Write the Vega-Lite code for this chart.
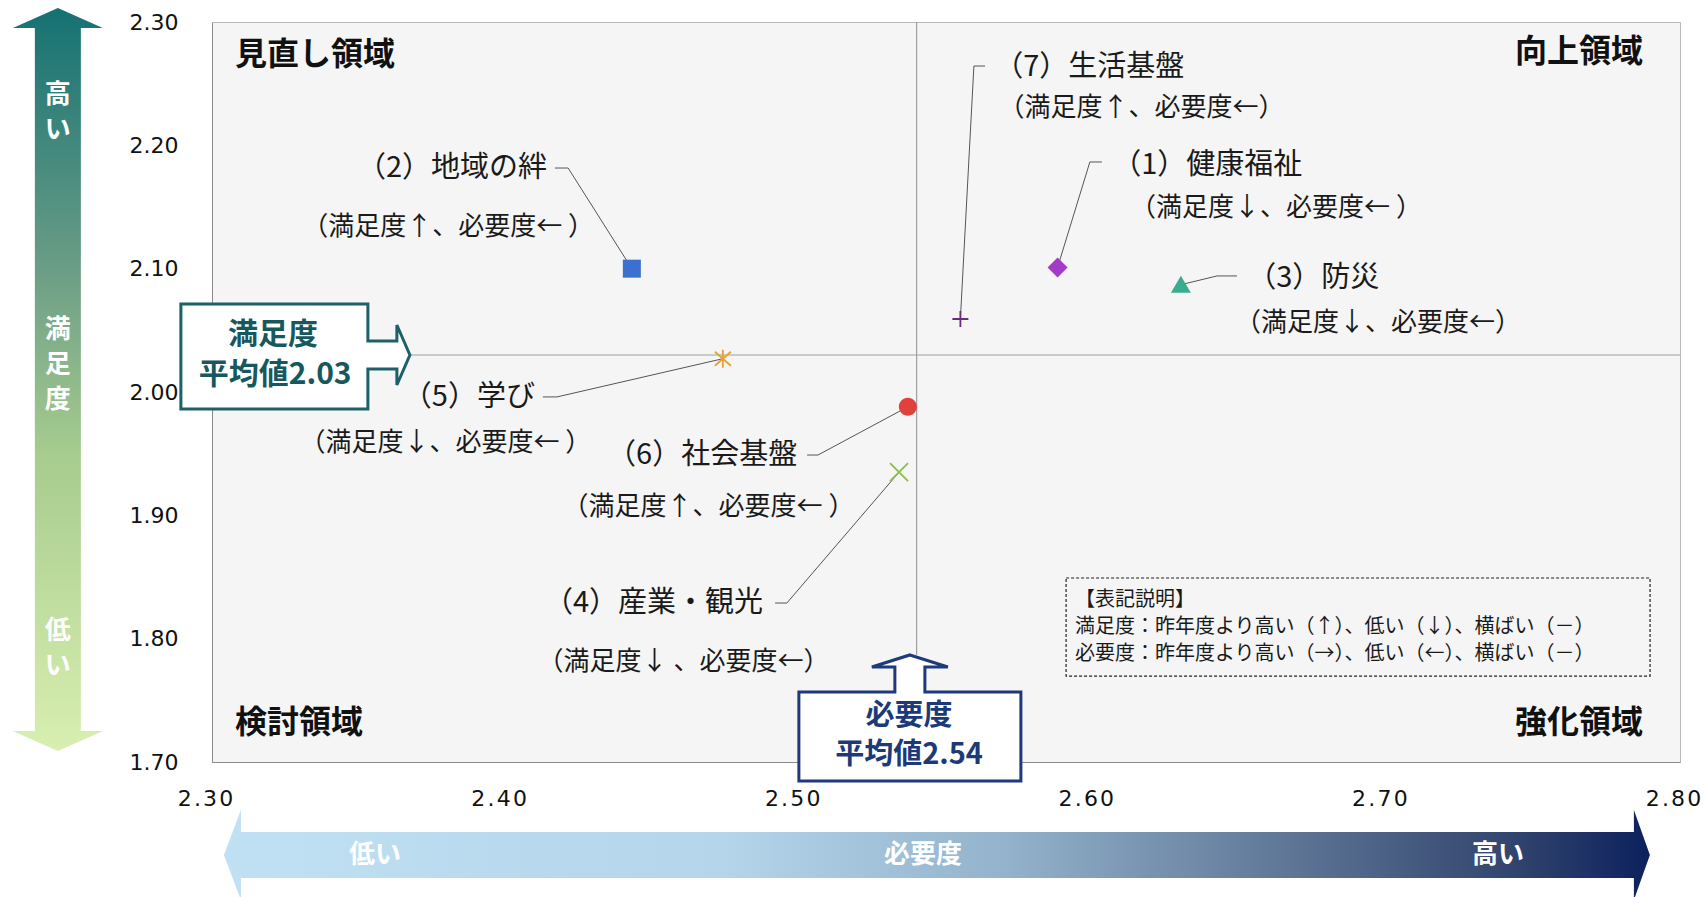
{
  "$schema": "https://vega.github.io/schema/vega-lite/v6.json",
  "width": 1468,
  "height": 740,
  "autosize": {"type": "none"},
  "padding": {"left": 212, "top": 22, "right": 26, "bottom": 135},
  "background": "white",
  "config": {
    "view": {"fill": "#f5f5f5", "stroke": "#b8b8b8"},
    "font": "Noto Sans CJK JP"
  },
  "resolve": {"scale": {"shape": "independent", "color": "independent"}},
  "encoding": {
    "x": {
      "field": "x", "type": "quantitative",
      "scale": {"domain": [2.3, 2.8], "nice": false, "zero": false},
      "axis": {
        "title": null, "values": [2.3, 2.4, 2.5, 2.6, 2.7, 2.8], "format": ".2f",
        "labelExpr": "join(split(datum.label, ''), '\u200a')",
        "grid": false, "ticks": false, "domainColor": "#8a8a8a",
        "labelFont": "DejaVu Sans", "labelFontSize": 22, "labelColor": "#111111",
        "labelPadding": 26, "labelFlush": false, "labelOverlap": false, "labelOffset": -7
      }
    },
    "y": {
      "field": "y", "type": "quantitative",
      "scale": {"domain": [1.7, 2.3], "nice": false, "zero": false},
      "axis": {
        "title": null, "values": [1.7, 1.8, 1.9, 2.0, 2.1, 2.2, 2.3], "format": ".2f",
        "grid": false, "ticks": false, "domainColor": "#8a8a8a",
        "labelFont": "DejaVu Sans", "labelFontSize": 22, "labelColor": "#111111",
        "labelPadding": 34, "labelFlush": false, "labelOverlap": false
      }
    }
  },
  "layer": [
    {
      "data": {"values": [
        {"x": 2.54, "y": 1.7868, "x2": 2.54, "y2": 2.3},
        {"x": 2.3674, "y": 2.03, "x2": 2.8, "y2": 2.03}
      ]},
      "mark": {"type": "rule", "color": "#a0a0a0", "strokeWidth": 1.2},
      "encoding": {"x2": {"field": "x2"}, "y2": {"field": "y2"}}
    },
    {
      "data": {"values": [
        {"x": 2.588, "y": 2.101, "x2": 2.599, "y2": 2.1865},
        {"x": 2.599, "y": 2.1865, "x2": 2.6031, "y2": 2.1865},
        {"x": 2.443, "y": 2.100, "x2": 2.4213, "y2": 2.1816},
        {"x": 2.4213, "y": 2.1816, "x2": 2.4168, "y2": 2.1816},
        {"x": 2.630, "y": 2.087, "x2": 2.6423, "y2": 2.0941},
        {"x": 2.6423, "y": 2.0941, "x2": 2.6491, "y2": 2.0941},
        {"x": 2.534, "y": 1.935, "x2": 2.4958, "y2": 1.8289},
        {"x": 2.4958, "y": 1.8289, "x2": 2.4918, "y2": 1.8289},
        {"x": 2.474, "y": 2.027, "x2": 2.4175, "y2": 1.996},
        {"x": 2.4175, "y": 1.996, "x2": 2.4127, "y2": 1.996},
        {"x": 2.537, "y": 1.988, "x2": 2.5064, "y2": 1.9489},
        {"x": 2.5064, "y": 1.9489, "x2": 2.5027, "y2": 1.9489},
        {"x": 2.5549, "y": 2.0592, "x2": 2.5595, "y2": 2.2643},
        {"x": 2.5595, "y": 2.2643, "x2": 2.5633, "y2": 2.2643}
      ]},
      "mark": {"type": "rule", "color": "#555555", "strokeWidth": 1},
      "encoding": {"x2": {"field": "x2"}, "y2": {"field": "y2"}}
    },
    {
      "data": {"values": [{"x": 2.5909, "x2": 2.7898, "y": 1.7697, "y2": 1.8492}]},
      "mark": {"type": "rect", "fill": null, "fillOpacity": 0, "stroke": "#222222", "strokeWidth": 1.2, "strokeDash": [3, 2]},
      "encoding": {"x2": {"field": "x2"}, "y2": {"field": "y2"}}
    },
    {
      "data": {"values": [{"x": 2.3674, "y": 2.03}]},
      "mark": {"type": "point", "shape": "M0,0 L-13,-30 L-13,-14 L-42,-14 L-42,-51 L-229,-51 L-229,54 L-42,54 L-42,14 L-13,14 L-13,30 Z", "size": 4, "filled": true, "fill": "#ffffff", "stroke": "#1d6068", "strokeWidth": 3, "opacity": 1}
    },
    {
      "data": {"values": [{"x": 2.5377, "y": 1.7868}]},
      "mark": {"type": "point", "shape": "M0,0 L38,12 L15,12 L15,37 L111,37 L111,126 L-111,126 L-111,37 L-15,37 L-15,12 L-38,12 Z", "size": 4, "filled": true, "fill": "#ffffff", "stroke": "#1d3a7c", "strokeWidth": 3, "opacity": 1}
    },
    {
      "data": {"values": [{"x": 2.2475, "y": 2.0097}]},
      "mark": {"type": "point", "shape": "M0,-372 L45,-352 L23,-352 L23,351 L45,351 L0,371 L-45,351 L-23,351 L-23,-352 L-45,-352 Z", "size": 4, "filled": true, "opacity": 1, "strokeWidth": 0,
        "fill": {"gradient": "linear", "x1": 0, "y1": 0, "x2": 0, "y2": 1, "stops": [
          {"offset": 0, "color": "#157173"}, {"offset": 0.35, "color": "#6a9d86"}, {"offset": 0.6, "color": "#a6cc8e"}, {"offset": 1, "color": "#d8efb0"}]}}
    },
    {
      "data": {"values": [{"x": 2.5469, "y": 1.6246}]},
      "mark": {"type": "point", "shape": "M-713,0 L-696,-45 L-696,-23 L697,-23 L697,-45 L713,0 L697,45 L697,23 L-696,23 L-696,45 Z", "size": 4, "filled": true, "opacity": 1, "strokeWidth": 0,
        "fill": {"gradient": "linear", "x1": 0, "y1": 0, "x2": 1, "y2": 0, "stops": [
          {"offset": 0, "color": "#c0e0f3"}, {"offset": 0.35, "color": "#b4d5ea"}, {"offset": 0.55, "color": "#93b2cb"}, {"offset": 0.75, "color": "#5e7596"}, {"offset": 0.9, "color": "#33466f"}, {"offset": 1, "color": "#0c215d"}]}}
    },
    {
      "data": {"values": [
        {"x": 2.588, "y": 2.101, "k": "1"},
        {"x": 2.443, "y": 2.100, "k": "2"},
        {"x": 2.630, "y": 2.087, "k": "3"},
        {"x": 2.537, "y": 1.988, "k": "6"}
      ]},
      "mark": {"type": "point", "filled": true, "size": 4, "opacity": 1, "strokeWidth": 0},
      "encoding": {
        "shape": {"field": "k", "type": "nominal", "legend": null, "scale": {"domain": ["1", "2", "3", "6"], "range": [
          "M0,-10 L10,0 L0,10 L-10,0 Z",
          "M-9,-9 L9,-9 L9,9 L-9,9 Z",
          "M0,-9 L10,8 L-10,8 Z",
          "M-9,0 A9,9 0 1,0 9,0 A9,9 0 1,0 -9,0 Z"]}},
        "color": {"field": "k", "type": "nominal", "legend": null, "scale": {"domain": ["1", "2", "3", "6"], "range": ["#a23cc6", "#3b6fd0", "#3cac91", "#e0413b"]}}
      }
    },
    {
      "data": {"values": [
        {"x": 2.5549, "y": 2.0592, "m": "7"},
        {"x": 2.474, "y": 2.027, "m": "5"},
        {"x": 2.534, "y": 1.935, "m": "4"}
      ]},
      "mark": {"type": "point", "filled": false, "size": 4, "opacity": 1, "strokeWidth": 1.8},
      "encoding": {
        "shape": {"field": "m", "type": "nominal", "legend": null, "scale": {"domain": ["7", "5", "4"], "range": [
          "M-8,0 L8,0 M0,-8 L0,8",
          "M-8,-7 L8,7 M-8,7 L8,-7 M0,-9 L0,9",
          "M-9,-9 L9,9 M-9,9 L9,-9"]}},
        "color": {"field": "m", "type": "nominal", "legend": null, "scale": {"domain": ["7", "5", "4"], "range": ["#6a2a7d", "#e8a033", "#8cbf4a"]}}
      }
    },
    {
      "data": {"values": [
        {"x": 2.6066, "y": 2.1841, "t": "（1）健康福祉"},
        {"x": 2.6526, "y": 2.0924, "t": "（3）防災"},
        {"x": 2.5664, "y": 2.2635, "t": "（7）生活基盤"}
      ]},
      "mark": {"type": "text", "align": "left", "baseline": "middle", "fontSize": 29, "color": "#1a1a1a"},
      "encoding": {"text": {"field": "t"}}
    },
    {
      "data": {"values": [
        {"x": 2.4141, "y": 2.1816, "t": "（2）地域の絆"},
        {"x": 2.4877, "y": 1.8289, "t": "（4）産業・観光"},
        {"x": 2.41, "y": 1.996, "t": "（5）学び"},
        {"x": 2.4993, "y": 1.9489, "t": "（6）社会基盤"}
      ]},
      "mark": {"type": "text", "align": "right", "baseline": "middle", "fontSize": 29, "color": "#1a1a1a"},
      "encoding": {"text": {"field": "t"}}
    },
    {
      "data": {"values": [
        {"x": 2.6624, "y": 2.1492, "t": "（満足度↓、必要度← ）"},
        {"x": 2.3804, "y": 2.1338, "t": "（満足度↑、必要度← ）"},
        {"x": 2.6971, "y": 2.056, "t": "（満足度↓、必要度←）"},
        {"x": 2.4606, "y": 1.7811, "t": "（満足度↓ 、必要度←）"},
        {"x": 2.3795, "y": 1.9587, "t": "（満足度↓、必要度← ）"},
        {"x": 2.4691, "y": 1.9068, "t": "（満足度↑、必要度← ）"},
        {"x": 2.6166, "y": 2.2303, "t": "（満足度↑、必要度←）"}
      ]},
      "mark": {"type": "text", "align": "center", "baseline": "middle", "fontSize": 26, "color": "#1a1a1a"},
      "encoding": {"text": {"field": "t"}}
    },
    {
      "data": {"values": [
        {"x": 2.3078, "y": 2.2733, "t": "見直し領域"},
        {"x": 2.3078, "y": 1.7316, "t": "検討領域"}
      ]},
      "mark": {"type": "text", "align": "left", "baseline": "middle", "fontSize": 32, "fontWeight": "bold", "color": "#111111"},
      "encoding": {"text": {"field": "t"}}
    },
    {
      "data": {"values": [
        {"x": 2.7874, "y": 2.2757, "t": "向上領域"},
        {"x": 2.7874, "y": 1.7316, "t": "強化領域"}
      ]},
      "mark": {"type": "text", "align": "right", "baseline": "middle", "fontSize": 32, "fontWeight": "bold", "color": "#111111"},
      "encoding": {"text": {"field": "t"}}
    },
    {
      "data": {"values": [
        {"x": 2.5939, "y": 1.8314, "t": "【表記説明】"},
        {"x": 2.5939, "y": 1.8095, "t": "満足度：昨年度より高い（↑）、低い（↓）、横ばい（－）"},
        {"x": 2.5939, "y": 1.7876, "t": "必要度：昨年度より高い（→）、低い（←）、横ばい（－）"}
      ]},
      "mark": {"type": "text", "align": "left", "baseline": "middle", "fontSize": 20, "color": "#1a1a1a"},
      "encoding": {"text": {"field": "t"}}
    },
    {
      "data": {"values": [
        {"x": 2.3208, "y": 2.0462, "t": "満足度"},
        {"x": 2.3215, "y": 2.0138, "t": "平均値2.03"}
      ]},
      "mark": {"type": "text", "align": "center", "baseline": "middle", "fontSize": 30, "fontWeight": "bold", "color": "#17585e"},
      "encoding": {"text": {"field": "t"}}
    },
    {
      "data": {"values": [
        {"x": 2.5374, "y": 1.7373, "t": "必要度"},
        {"x": 2.5374, "y": 1.7057, "t": "平均値2.54"}
      ]},
      "mark": {"type": "text", "align": "center", "baseline": "middle", "fontSize": 29, "fontWeight": "bold", "color": "#1c3a78"},
      "encoding": {"text": {"field": "t"}}
    },
    {
      "data": {"values": [
        {"x": 2.2475, "y": 2.2408, "t": "高\nい"},
        {"x": 2.2475, "y": 2.0503, "t": "満\n足\n度"},
        {"x": 2.2475, "y": 1.8062, "t": "低\nい"},
        {"x": 2.3555, "y": 1.6246, "t": "低い"},
        {"x": 2.5422, "y": 1.6246, "t": "必要度"},
        {"x": 2.738, "y": 1.6246, "t": "高い"}
      ]},
      "mark": {"type": "text", "align": "center", "baseline": "middle", "fontSize": 26, "fontWeight": "bold", "color": "#ffffff", "lineBreak": "\n", "lineHeight": 35},
      "encoding": {"text": {"field": "t"}}
    }
  ]
}
